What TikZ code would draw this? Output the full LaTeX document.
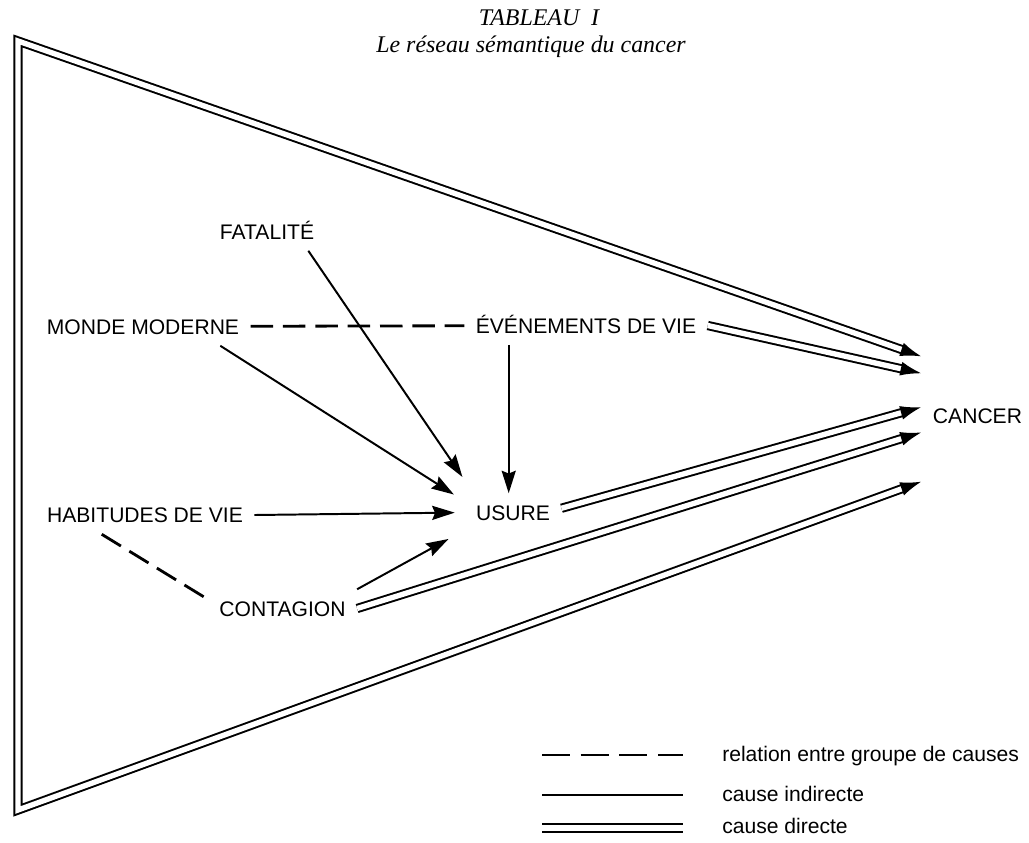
\documentclass[tikz,border=0pt]{standalone}
\usepackage{fontspec}
\setmainfont{Liberation Serif}
\setsansfont{Liberation Sans}
\usetikzlibrary{arrows.meta}

\tikzset{
  pointe/.tip={Latex[length=15pt,width=10pt]},
  mot/.style={font=\sffamily\fontsize{15}{18}\selectfont,inner sep=8pt,text height=11pt,text depth=0pt},
  legende/.style={font=\sffamily\fontsize{15}{18}\selectfont,inner sep=0pt,anchor=base west},
  titre/.style={font=\itshape\fontsize{17}{20}\selectfont,inner sep=0pt},
  indirecte/.style={line width=1.4pt,-{Stealth[length=16pt,width=10pt,inset=2pt]}},
  directe/.style={double,double distance=3.8pt,line width=1.4pt,-pointe},
  relation/.style={line width=2pt,dash pattern=on 16pt off 7pt},
}

\begin{document}
\begin{tikzpicture}[x=0.025cm,y=-0.025cm,line join=miter]
\useasboundingbox (0,0) rectangle (1029,842);

% titre
\node[titre] (tableau) at (539,18) {TABLEAU\ \ I};
\node[titre] (soustitre) at (531,47) {Le réseau sémantique du cancer};

% groupes de causes
\node[mot] (fatalite) at (267,231.5) {FATALITÉ};
\node[mot] (monde) at (143,326.5) {MONDE MODERNE};
\node[mot] (evenements) at (586,325.5) {ÉVÉNEMENTS DE VIE};
\node[mot] (habitudes) at (145,515) {HABITUDES DE VIE};
\node[mot] (usure) at (513,512.5) {USURE};
\node[mot] (contagion) at (282.5,608.5) {CONTAGION};
\node[mot] (cancer) at (977.5,415.5) {CANCER};

% le triangle
\draw[directe,pointe-pointe] ([yshift=42pt]cancer.west) -- (18,41) -- (18,810) -- ([yshift=-47pt]cancer.west);

% relations entre groupes
\draw[relation] (monde) -- (evenements);
\draw[relation] (habitudes.204) -- (contagion.173);

% causes indirectes
\draw[indirecte,shorten >=14pt] (fatalite.-25) -- (usure.154);
\draw[indirecte,shorten >=9pt] (monde.-14) -- (usure.167);
\draw[indirecte] (evenements.194) -- (evenements.194 |- usure.north);
\draw[indirecte,shorten >=7pt] (habitudes.east) -- (usure.west);
\draw[indirecte,shorten >=13pt] (contagion.north east) -- (usure.200);

% causes directes
\draw[directe] (evenements.east) -- ([yshift=30pt]cancer.west);
\draw[directe] (usure.5) -- ([yshift=6pt]cancer.west);
\draw[directe] (contagion.east) -- ([yshift=-12pt]cancer.west);

% legende
\node[legende] (leg1) at (722,761) {relation entre groupe de causes};
\node[legende] (leg2) at (722,801) {cause indirecte};
\node[legende] (leg3) at (722,833) {cause directe};
\draw[line width=2pt,dash pattern=on 20pt off 7.5pt] (542,755) -- (683,755);
\draw[line width=1.4pt] (542,795) -- (683,795);
\draw[line width=1.4pt,double,double distance=3.8pt] (542,828) -- (683,828);
\end{tikzpicture}
\end{document}
